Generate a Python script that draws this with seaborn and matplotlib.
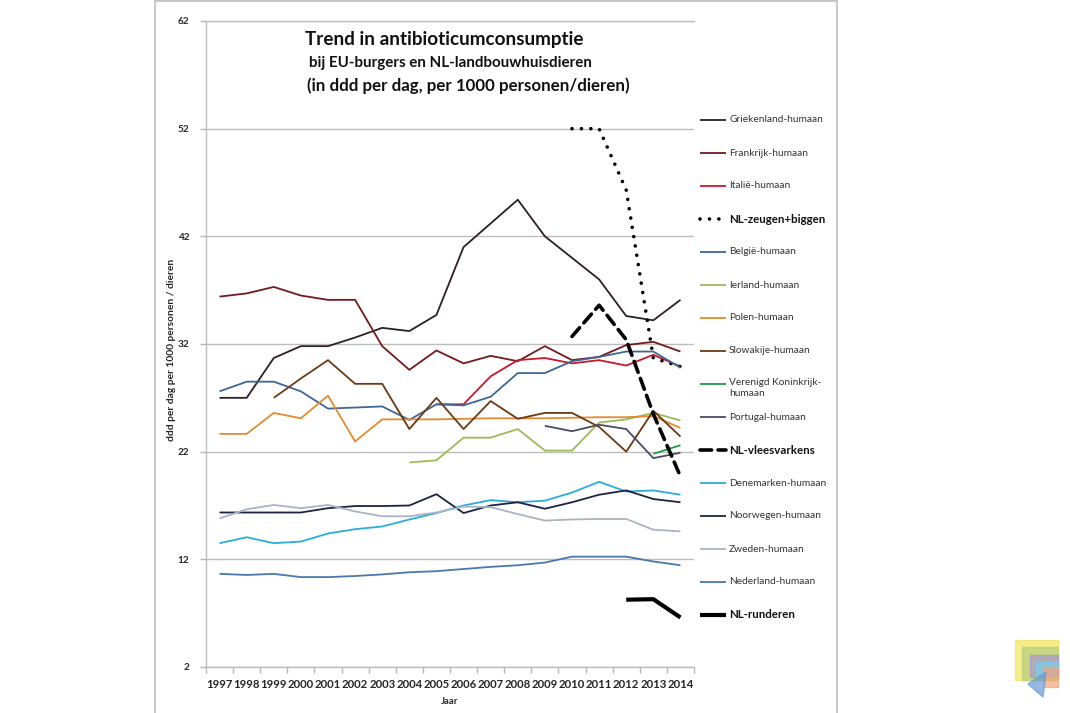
import numpy as np
import pandas as pd
import seaborn as sns
import matplotlib
matplotlib.use('Agg')
import matplotlib.pyplot as plt
from matplotlib.lines import Line2D
from matplotlib.patches import Rectangle, Polygon

#
# Data
#
years = list(range(1997, 2015))

griekenland = [27.0, 27.0, 30.7, 31.8, 31.8, 32.6, 33.5, 33.2, 34.7, 41.0, 43.2, 45.4, 42.0, 40.0, 38.0, 34.6, 34.2, 36.1]
frankrijk = [36.4, 36.7, 37.3, 36.5, 36.1, 36.1, 31.8, 29.6, 31.4, 30.2, 30.9, 30.4, 31.8, 30.5, 30.8, 31.9, 32.2, 31.3]
italie = [None] * 8 + [26.4, 26.4, 29.0, 30.5, 30.7, 30.2, 30.5, 30.0, 31.0, 29.9]
zeugen_biggen = [None] * 13 + [52.0, 52.0, 46.3, 30.7, 29.9]
belgie = [27.6, 28.5, 28.5, 27.6, 26.0, 26.1, 26.2, 24.95, 26.4, 26.3, 27.1, 29.3, 29.3, 30.4, 30.8, 31.3, 31.3, 29.8]
ierland = [None] * 7 + [21.0, 21.2, 23.3, 23.3, 24.1, 22.1, 22.1, 24.7, 25.0, 25.6, 24.9]
polen = [23.65, 23.65, 25.6, 25.1, 27.2, 22.95, 25.0, 25.0, 25.0, 25.05, 25.1, 25.1, 25.1, 25.15, 25.2, 25.2, 25.3, 24.2]
slowakije = [None] * 2 + [27.0, 28.8, 30.5, 28.3, 28.3, 24.1, 27.0, 24.1, 26.7, 25.05, 25.6, 25.6, 24.3, 22.0, 25.8, 23.4]
verenigd_koninkrijk = [None] * 16 + [21.8, 22.6]
portugal = [None] * 12 + [24.4, 23.9, 24.5, 24.1, 21.4, 21.9]
vleesvarkens = [None] * 13 + [32.7, 35.6, 32.4, 25.5, 19.7]
denemarken = [13.5, 14.05, 13.5, 13.65, 14.4, 14.8, 15.05, 15.7, 16.3, 17.0, 17.5, 17.3, 17.45, 18.2, 19.2, 18.3, 18.4, 18.0]
noorwegen = [16.35, 16.35, 16.35, 16.35, 16.75, 16.95, 16.95, 17.0, 18.05, 16.3, 17.0, 17.3, 16.7, 17.3, 18.0, 18.4, 17.6, 17.3]
zweden = [15.8, 16.65, 17.05, 16.75, 17.05, 16.45, 16.0, 16.0, 16.35, 16.9, 16.85, 16.2, 15.6, 15.7, 15.75, 15.75, 14.75, 14.6]
nederland = [10.65, 10.55, 10.65, 10.35, 10.35, 10.45, 10.6, 10.8, 10.9, 11.1, 11.3, 11.45, 11.7, 12.25, 12.25, 12.25, 11.8, 11.45]
runderen = [None] * 15 + [8.25, 8.3, 6.6]

# name, values, colour, width, linestyle, bold label
series = [
    ('Griekenland-humaan', griekenland, '#2e1f24', 1.3, '-', False),
    ('Frankrijk-humaan', frankrijk, '#731a1e', 1.3, '-', False),
    ('Italië-humaan', italie, '#c8182c', 1.3, '-', False),
    ('NL-zeugen+biggen', zeugen_biggen, '#000000', 2.6, (0, (0.01, 2.6)), True),
    ('België-humaan', belgie, '#3d6796', 1.3, '-', False),
    ('Ierland-humaan', ierland, '#9bbb59', 1.3, '-', False),
    ('Polen-humaan', polen, '#e38b2e', 1.3, '-', False),
    ('Slowakije-humaan', slowakije, '#6b3a14', 1.3, '-', False),
    ('Verenigd Koninkrijk-\nhumaan', verenigd_koninkrijk, '#1f9a4a', 1.3, '-', False),
    ('Portugal-humaan', portugal, '#4b4b66', 1.3, '-', False),
    ('NL-vleesvarkens', vleesvarkens, '#000000', 2.6, (0, (3.2, 1.8)), True),
    ('Denemarken-humaan', denemarken, '#2aaed8', 1.3, '-', False),
    ('Noorwegen-humaan', noorwegen, '#1b2440', 1.3, '-', False),
    ('Zweden-humaan', zweden, '#aab3c6', 1.3, '-', False),
    ('Nederland-humaan', nederland, '#4a78aa', 1.3, '-', False),
    ('NL-runderen', runderen, '#000000', 3.0, '-', True),
]

sns.set_theme(style='white')
plt.rcParams['font.family'] = ['Lato', 'DejaVu Sans']

fig = plt.figure(figsize=(10.7, 7.13), dpi=100)
W, H = 1070.0, 713.0

# plot area in pixels: x 206..694, y 21..667
ax = fig.add_axes([206 / W, 1 - 667 / H, (694 - 206) / W, (667 - 21) / H])

pos = list(range(len(years)))
for name, values, color, lw, ls, bold in series:
    df = pd.DataFrame({'pos': pos, 'value': values}).dropna()
    sns.lineplot(data=df, x='pos', y='value', ax=ax, color=color, linewidth=lw,
                 linestyle=ls, estimator=None, sort=False, dash_capstyle='round',
                 solid_capstyle='butt', legend=False)

ax.set_xlim(-0.5, len(years) - 0.5)
ax.set_ylim(2, 62)
ax.set_yticks(range(2, 63, 10))
ax.set_xticks(pos)
ax.set_xticklabels([str(y) for y in years], fontsize=8.2, fontweight='bold')
ax.set_xticks(np.arange(-0.5, len(years), 1), minor=True)
ax.tick_params(axis='x', which='major', length=0, pad=9)
ax.tick_params(axis='x', which='minor', length=4, width=1, color='#b5b5b5', direction='out', bottom=True)
ax.tick_params(axis='y', length=4, width=1, color='#b5b5b5', direction='out', left=True, labelsize=7.2, pad=8)
for lab in ax.get_yticklabels():
    lab.set_fontweight('bold')

ax.grid(axis='y', color='#bdbdbd', linewidth=1)
ax.set_axisbelow(True)
ax.spines['right'].set_visible(False)
for side in ['left', 'bottom', 'top']:
    ax.spines[side].set_color('#bdbdbd')
    ax.spines[side].set_linewidth(1)

ax.set_xlabel('Jaar', fontsize=6.8, fontweight='bold')
ax.xaxis.set_label_coords(0.5, (667 - 697) / 646)
ax.set_ylabel('ddd per dag per 1000 personen / dieren', fontsize=7.4, fontweight='bold')
ax.yaxis.set_label_coords((176 - 206) / 488, (667 - 350) / 646)

# titles
fig.text(305 / W, 1 - 40 / H, 'Trend in antibioticumconsumptie', fontsize=13.6, fontweight='bold',
         ha='left', va='center', color='#111111')
fig.text(309 / W, 1 - 63 / H, 'bij EU-burgers en NL-landbouwhuisdieren', fontsize=10.9, fontweight='bold',
         ha='left', va='center', color='#111111')
fig.text(307 / W, 1 - 86 / H, '(in ddd per dag, per 1000 personen/dieren)', fontsize=12.2, fontweight='bold',
         ha='left', va='center', color='#111111')

# legend, Excel style: one entry every 33 px
for i, (name, values, color, lw, ls, bold) in enumerate(series):
    y = 1 - (120 + 33 * i) / H
    fig.add_artist(Line2D([700 / W, 726 / W], [y, y], color=color, linewidth=lw,
                          linestyle=ls, dash_capstyle='round', solid_capstyle='butt'))
    if '\n' in name:
        fig.text(729 / W, y + 6 / H, name, fontsize=7.3, color='#333333', ha='left', va='top',
                 linespacing=1.3)
    else:
        fig.text(729 / W, y, name, fontsize=8.3 if bold else 7.3,
                 fontweight='bold' if bold else 'normal',
                 color='#111111' if bold else '#333333', ha='left', va='center')

# slide frame around the chart
for x0 in [155, 837]:
    fig.add_artist(Line2D([x0 / W, x0 / W], [0, 1], color='#c8c8c8', linewidth=1.5))
fig.add_artist(Line2D([155 / W, 837 / W], [1 - 1 / H, 1 - 1 / H], color='#c8c8c8', linewidth=1.5))

# small logo bottom right
logo = [
    (1015, 640, 43, 40, '#f2e65a'),
    (1022, 647, 36, 33, '#b5cf7a'),
    (1030, 655, 28, 22, '#a897cf'),
    (1036, 662, 22, 14, '#7ccdef'),
    (1044, 667, 14, 20, '#f3a47a'),
]
for x0, y0, w, h, c in logo:
    fig.add_artist(Rectangle((x0 / W, 1 - (y0 + h) / H), w / W, h / H, color=c, alpha=0.7,
                             transform=fig.transFigure))
fig.add_artist(Polygon([(1028 / W, 1 - 684 / H), (1046 / W, 1 - 672 / H), (1043 / W, 1 - 697 / H)],
                       closed=True, color='#6a9ad6', alpha=0.7, transform=fig.transFigure))

fig.savefig('out.png', dpi=100)
